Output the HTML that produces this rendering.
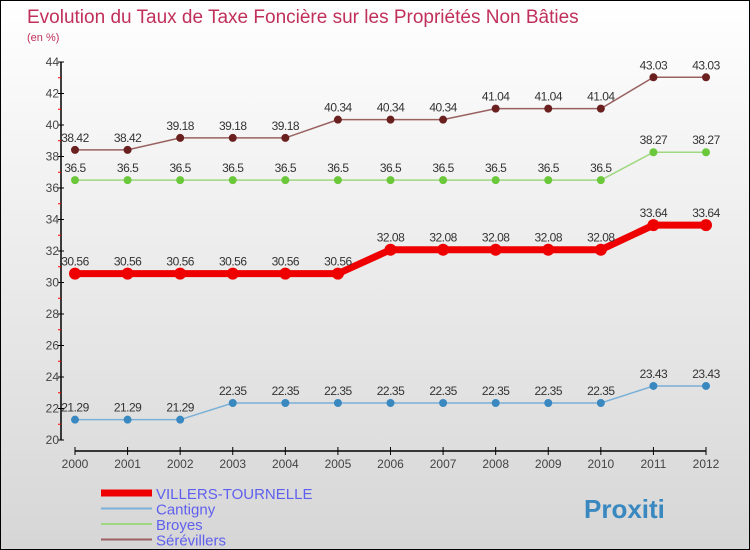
<!DOCTYPE html>
<html><head><meta charset="utf-8"><style>
body{margin:0}
#c{width:748px;height:548px;border:1px solid #000;background:linear-gradient(#fff,#d6d6d6);position:relative;font-family:"Liberation Sans",sans-serif;overflow:hidden}
svg text{font-family:"Liberation Sans",sans-serif}
</style></head><body>
<div id="c">
<svg id="s" width="748" height="548">
<text x="26" y="22" font-size="19" fill="#c0305a">Evolution du Taux de Taxe Foncière sur les Propriétés Non Bâties</text>
<text x="26" y="40" font-size="11" fill="#c0305a">(en %)</text>
<g id="g"></g>
</svg>
</div>
<script>
const years=[2000,2001,2002,2003,2004,2005,2006,2007,2008,2009,2010,2011,2012];
const yTicks=[20,22,24,26,28,30,32,34,36,38,40,42,44];
const villers=[30.56,30.56,30.56,30.56,30.56,30.56,32.08,32.08,32.08,32.08,32.08,33.64,33.64];
const cantigny=[21.29,21.29,21.29,22.35,22.35,22.35,22.35,22.35,22.35,22.35,22.35,23.43,23.43];
const broyes=[36.5,36.5,36.5,36.5,36.5,36.5,36.5,36.5,36.5,36.5,36.5,38.27,38.27];
const serevillers=[38.42,38.42,39.18,39.18,39.18,40.34,40.34,40.34,41.04,41.04,41.04,43.03,43.03];
const names=["VILLERS-TOURNELLE","Cantigny","Broyes","Sérévillers"];
const ns="http://www.w3.org/2000/svg",g=document.getElementById('g');
const X=i=>74+i*(705-74)/(years.length-1);
const Y=v=>439-(v-20)*(439-61)/24;
function el(t,a,p){const e=document.createElementNS(ns,t);for(const k in a)e.setAttribute(k,a[k]);(p||g).appendChild(e);return e;}
let ax=el('line',{x1:60,y1:61,x2:60,y2:439,stroke:'#000','stroke-width':1.5});


yTicks.forEach((v,i)=>{
 el('line',{x1:57,x2:63,y1:Y(v),y2:Y(v),stroke:'#000'});
 if(i<yTicks.length-1)el('line',{x1:57,x2:60,y1:Y(v+1),y2:Y(v+1),stroke:'#f00'});
 const t=el('text',{x:58,y:Y(v)+4,'font-size':12,fill:'#444','text-anchor':'end'});t.textContent=v;
 
 
});
let xa=el('line',{x1:X(0),y1:450,x2:X(12),y2:450,stroke:'#000','stroke-width':1.5});


years.forEach((y,i)=>{
 el('line',{x1:X(i),x2:X(i),y1:446,y2:454,stroke:'#000'});
 const t=el('text',{x:X(i),y:467,'font-size':12,fill:'#444','text-anchor':'middle'});t.textContent=y;
 
 
});
const series=[[serevillers,'#6b2020','#9a6060',1.5,4],[broyes,'#6bc83a','#9fd880',1.5,4],[cantigny,'#3a88c0','#7ab0d8',1.5,4],[villers,'#ee0000','#ee0000',7,6]];
series.forEach(([d,c,lc,w,r],si)=>{
 const p=el('polyline',{points:d.map((v,i)=>X(i)+','+Y(v)).join(' '),fill:'none',stroke:lc,'stroke-width':w});
 
 
 d.forEach((v,i)=>{
  const m=el('circle',{cx:X(i),cy:Y(v),r:r,fill:c});
  
  
  const t=el('text',{x:X(i),y:Y(v)-8,'font-size':12,fill:'#333','text-anchor':'middle','letter-spacing':'-0.5'});t.textContent=v;
  
  
 });
});
const lc=['#ee0000','#7ab0d8','#9fd880','#9a6060'],lw=[7,2,2,2];
names.forEach((n,i)=>{
 const y=492+i*15.5;
 const l=el('line',{x1:100,x2:151,y1:y,y2:y,stroke:lc[i],'stroke-width':lw[i]});
 
 
 const t=el('text',{x:155,y:y+6,'font-size':15,fill:'#6060ee'});t.textContent=n;
 
 
});
const lg=el('text',{x:583,y:517,'font-size':26,'font-weight':'bold',fill:'#3a88c0'});lg.textContent='Proxiti';


</script>
</body></html>
